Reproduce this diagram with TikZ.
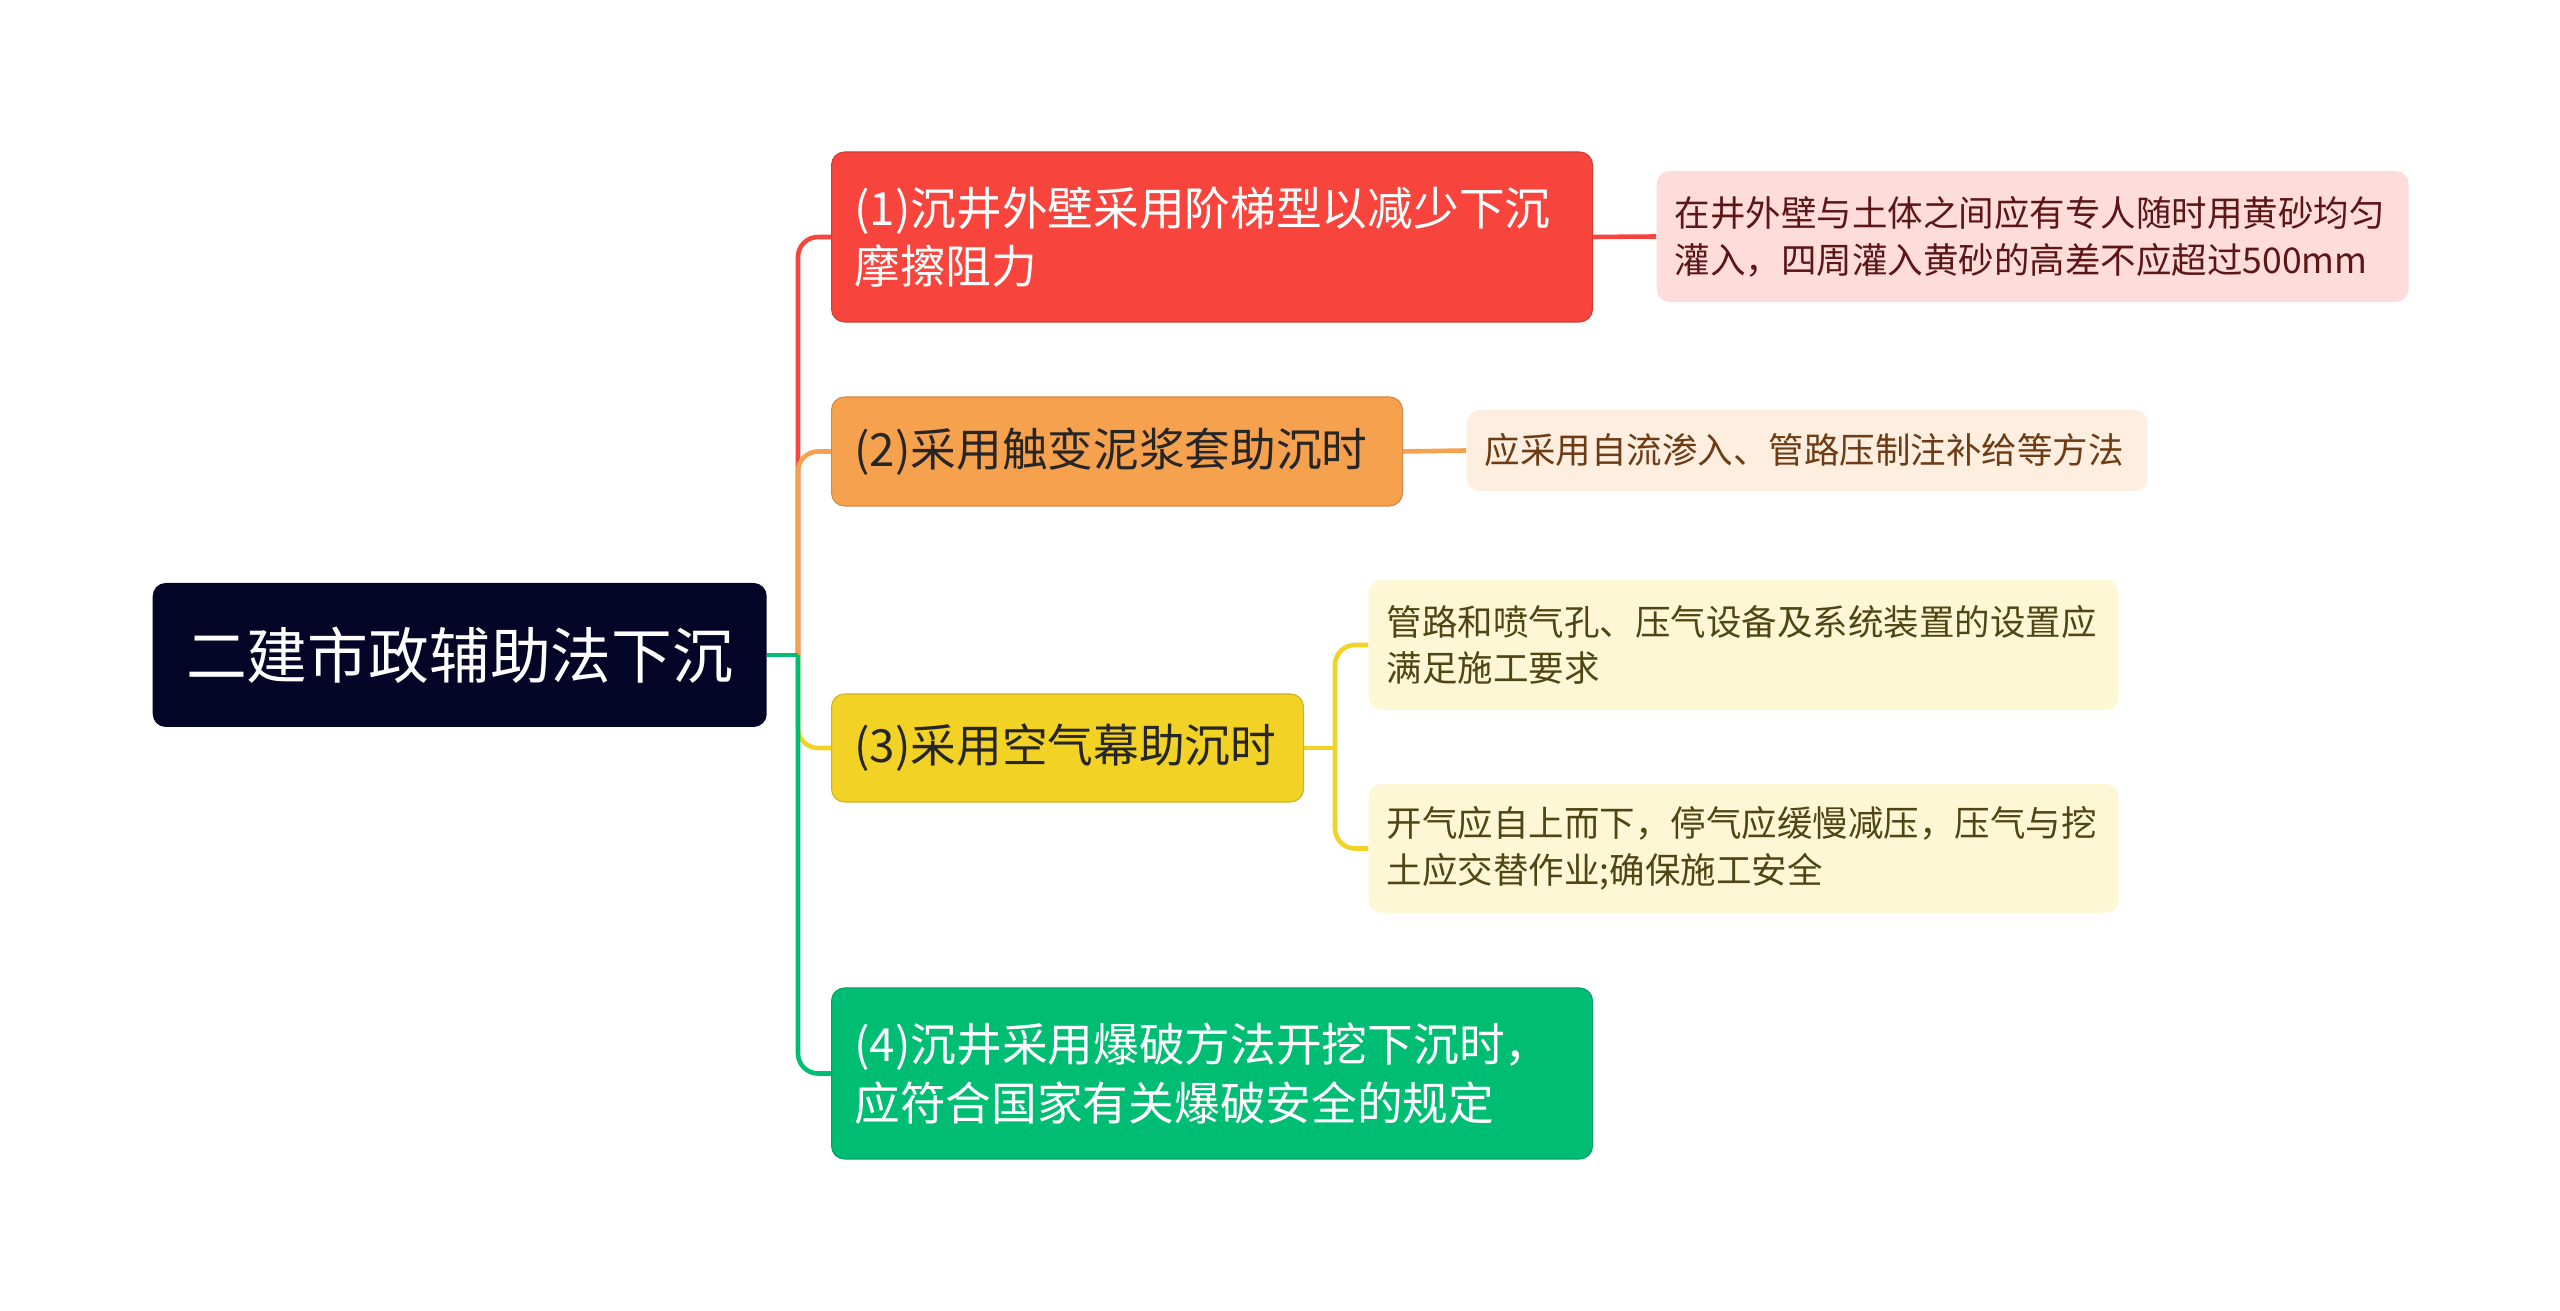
\documentclass[tikz,border=0pt]{standalone}
\usepackage{fontspec}
\newfontfamily\cjk{Noto Sans CJK SC}
\usetikzlibrary{positioning,calc}
\definecolor{sroot}{RGB}{5,5,40}
\definecolor{sred}{RGB}{247,68,60}
\definecolor{sredlt}{RGB}{253,220,218}
\definecolor{sredtx}{RGB}{92,22,22}
\definecolor{sorange}{RGB}{245,161,78}
\definecolor{sorangelt}{RGB}{253,238,224}
\definecolor{sorangetx}{RGB}{110,60,20}
\definecolor{syellow}{RGB}{242,210,36}
\definecolor{syellowlt}{RGB}{253,247,214}
\definecolor{syellowtx}{RGB}{80,70,20}
\definecolor{sgreen}{RGB}{0,189,116}
\tikzset{topic/.style={fill=sroot,rounded corners=0.13cm,text=white,anchor=west,minimum width=6.14cm,minimum height=1.44cm,font=\cjk\fontsize{17.3}{21}\selectfont},
  branch/.style={fill=#1,draw=#1!85!black,line width=0.3pt,rounded corners=0.13cm,anchor=west,inner xsep=0.23cm,align=left,font=\cjk\fontsize{13}{16.7}\selectfont},
  leaf/.style={fill=#1,rounded corners=0.13cm,anchor=west,inner xsep=0.18cm,align=left,font=\cjk\fontsize{10.1}{13.3}\selectfont},
  link/.style={draw=#1,line width=1.3pt,rounded corners=0.2cm}}
\begin{document}
\begin{tikzpicture}[x=1cm,y=1cm]
\useasboundingbox (0,0) rectangle (25.6,13.11);
\node[topic] (root) at (1.52,6.56) {二建市政辅助法下沉};
\node[branch=sred,text=white,text width=7.15cm,minimum height=1.70cm] (b1) at (8.31,10.74) {(1)沉井外壁采用阶梯型以减少下沉\\摩擦阻力};
\node[branch=sorange,text=black!85,text width=5.25cm,minimum height=1.09cm] (b2) at (8.31,8.595) {(2)采用触变泥浆套助沉时};
\node[branch=syellow,text=black!85,text width=4.26cm,minimum height=1.08cm] (b3) at (8.31,5.63) {(3)采用空气幕助沉时};
\node[branch=sgreen,text=white,text width=7.15cm,minimum height=1.71cm] (b4) at (8.31,2.375) {(4)沉井采用爆破方法开挖下沉时，\\应符合国家有关爆破安全的规定};
\node[leaf=sredlt,text=sredtx,text width=7.16cm,minimum height=1.31cm] (l1) at (16.56,10.745) {在井外壁与土体之间应有专人随时用黄砂均匀\\灌入，四周灌入黄砂的高差不应超过500mm};
\node[leaf=sorangelt,text=sorangetx,text width=6.45cm,minimum height=0.81cm] (l2) at (14.66,8.605) {应采用自流渗入、管路压制注补给等方法};
\node[leaf=syellowlt,text=syellowtx,text width=7.14cm,minimum height=1.30cm] (l3a) at (13.68,6.66) {管路和喷气孔、压气设备及系统装置的设置应\\满足施工要求};
\node[leaf=syellowlt,text=syellowtx,text width=7.14cm,minimum height=1.29cm] (l3b) at (13.68,4.625) {开气应自上而下，停气应缓慢减压，压气与挖\\土应交替作业;确保施工安全};
\coordinate (j) at (7.98,6.56);
\coordinate (k) at (13.35,5.63);
\draw[link=sred] (j) |- (b1.west);
\draw[link=sorange] (j) |- (b2.west);
\draw[link=syellow] (j) |- (b3.west);
\draw[link=sgreen] (j) |- (b4.west);
\draw[link=sgreen] (root.east) -- (j);
\draw[link=sred] (b1.east) -- (l1.west);
\draw[link=sorange] (b2.east) -- (l2.west);
\draw[link=syellow] (b3.east) -- (k);
\draw[link=syellow] (k) |- (l3a.west); \draw[link=syellow] (k) |- (l3b.west);
\end{tikzpicture}
\end{document}
